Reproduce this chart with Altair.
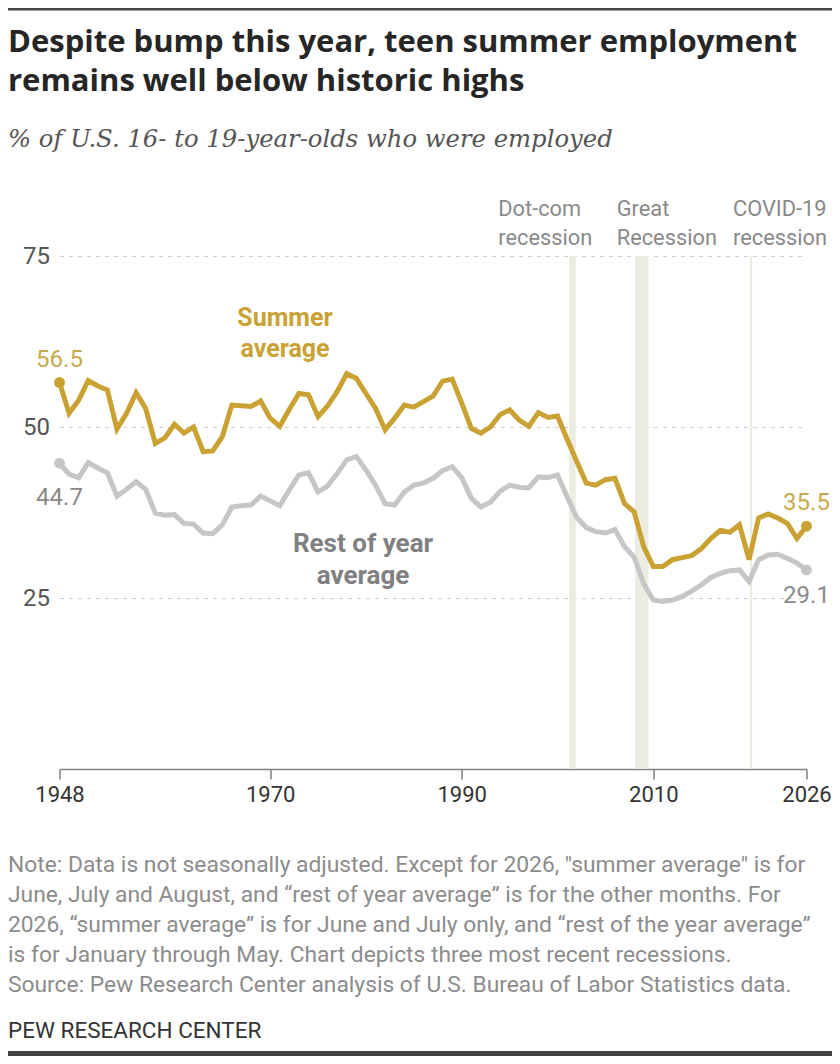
import altair as alt
import pandas as pd

# ---------------- data ----------------
years = list(range(1948, 2027))
summer = [56.5, 52.0, 53.9, 56.8, 56.0, 55.4, 49.7, 52.0, 55.0, 52.7,
          47.6, 48.4, 50.4, 49.1, 50.0, 46.4, 46.5, 48.6, 53.2, 53.1,
          53.0, 53.8, 51.3, 50.1, 52.6, 54.9, 54.7, 51.5, 53.1, 55.2,
          57.8, 57.1, 54.9, 52.7, 49.6, 51.3, 53.2, 52.9, 53.7, 54.5,
          56.7, 57.0, 53.5, 49.8, 49.1, 50.0, 51.8, 52.5, 51.0, 50.1,
          52.1, 51.4, 51.6, 48.2, 45.0, 41.8, 41.5, 42.3, 42.5, 38.8,
          37.6, 32.5, 29.6, 29.6, 30.6, 30.9, 31.2, 32.2, 33.7, 34.9,
          34.6, 35.7, 30.6, 36.7, 37.3, 36.7, 35.9, 33.7, 35.5]
rest = [44.7, 43.1, 42.6, 44.8, 44.0, 43.3, 39.9, 40.9, 42.0, 40.9,
        37.4, 37.1, 37.2, 35.9, 35.8, 34.5, 34.4, 35.7, 38.3, 38.5,
        38.6, 39.9, 39.2, 38.5, 40.8, 43.0, 43.3, 40.5, 41.4, 43.2,
        45.2, 45.7, 43.7, 41.5, 38.8, 38.6, 40.5, 41.5, 41.8, 42.5,
        43.6, 44.2, 42.6, 39.6, 38.3, 39.0, 40.6, 41.5, 41.2, 41.1,
        42.7, 42.6, 43.0, 39.8, 36.8, 35.3, 34.7, 34.5, 35.0, 32.5,
        31.0, 27.1, 24.7, 24.5, 24.7, 25.2, 26.0, 26.9, 28.0, 28.6,
        29.0, 29.1, 27.4, 30.6, 31.3, 31.4, 30.8, 30.1, 29.1]
assert len(years) == len(summer) == len(rest)

x_ticks = [1948, 1970, 1990, 2010, 2026]
y_ticks = [25, 50, 75]

rec_label1 = ["Dot-com", "Great", "COVID-19"]
rec_label2 = ["recession", "Recession", "recession"]
rec_start = [2001.2, 2008.1, 2020.1]
rec_end = [2001.9, 2009.5, 2020.33]

title_lines = ["Despite bump this year, teen summer employment",
               "remains well below historic highs"]
subtitle = "% of U.S. 16- to 19-year-olds who were employed"
note_lines = [
    "Note: Data is not seasonally adjusted. Except for 2026, \"summer average\" is for",
    "June, July and August, and \u201crest of year average\u201d is for the other months. For",
    "2026, \u201csummer average\u201d is for June and July only, and \u201crest of the year average\u201d",
    "is for January through May. Chart depicts three most recent recessions.",
    "Source: Pew Research Center analysis of U.S. Bureau of Labor Statistics data.",
]
credit = "PEW RESEARCH CENTER"
summer_label = ["Summer", "average"]
rest_label = ["Rest of year", "average"]

# ---------------- style ----------------
W, H = 747, 513
FONT = "Roboto, 'Noto Sans', sans-serif"
TFONT = "'Open Sans', Roboto, sans-serif"
SERIF = "'DejaVu Serif', serif"
GOLD = "#C9A233"
GOLD_NUM = "#C8AA4E"
GRAY_LINE = "#C6C6C6"
GRAY_TXT = "#8A8A8A"
GRAY_LBL = "#808080"
BAND = "#ECECE3"

df = pd.DataFrame({"year": years, "summer": summer, "rest": rest})
rec = pd.DataFrame({"start": rec_start, "end": rec_end,
                    "l1": rec_label1, "l2": rec_label2})

xscale = alt.Scale(domain=[1948, 2026], nice=False, zero=False)
yscale = alt.Scale(domain=[0, 75], nice=False, zero=True)

x_axis = alt.Axis(values=x_ticks, format="d", title=None, grid=False,
                  labelFontSize=22, labelColor="#333333", labelFont=FONT,
                  labelPadding=5, labelFlush=False, labelOverlap=False,
                  domainColor="#808080", domainWidth=1.5,
                  tickColor="#808080", tickWidth=1.5, tickSize=10)
y_axis = alt.Axis(values=y_ticks, title=None, grid=True, gridDash=[4, 5],
                  gridColor="#CFCFCF", gridWidth=1.2, domain=False, ticks=False,
                  labelFontSize=24, labelColor="#555555", labelFont=FONT,
                  labelPadding=10)


def X(field):
    return alt.X(field, scale=xscale, axis=x_axis)


def Y(field):
    return alt.Y(field, scale=yscale, axis=y_axis)


bands = alt.Chart(rec).mark_rect(color=BAND).encode(
    x=X("start:Q"), x2="end:Q", y=alt.value(0), y2=alt.value(H))

rest_line = alt.Chart(df).mark_line(color=GRAY_LINE, strokeWidth=5).encode(
    x=X("year:Q"), y=Y("rest:Q"))
summer_line = alt.Chart(df).mark_line(color=GOLD, strokeWidth=5).encode(
    x=X("year:Q"), y=Y("summer:Q"))

ends = alt.Chart(df).transform_filter(
    (alt.datum.year == years[0]) | (alt.datum.year == years[-1]))
rest_pts = ends.mark_circle(color=GRAY_LINE, size=120, opacity=1).encode(
    x=X("year:Q"), y=Y("rest:Q"))
summer_pts = ends.mark_circle(color=GOLD, size=120, opacity=1).encode(
    x=X("year:Q"), y=Y("summer:Q"))


def end_label(year, field, color, dy):
    return alt.Chart(df).transform_filter(alt.datum.year == year).mark_text(
        font=FONT, fontSize=24, color=color, dy=dy, baseline="alphabetic",
        align="center").encode(x=X("year:Q"), y=Y(f"{field}:Q"),
                               text=alt.Text(f"{field}:Q", format=".1f"))


lbls = [end_label(years[0], "summer", GOLD_NUM, -16),
        end_label(years[0], "rest", GRAY_TXT, 42),
        end_label(years[-1], "summer", GOLD_NUM, -16),
        end_label(years[-1], "rest", GRAY_TXT, 33)]

# recession labels (left aligned, two lines)
rec_offsets = [438.8, 557.2, 673.5]
rec_txt = []
for i in range(len(rec_label1)):
    rec_txt.append(
        alt.Chart(rec.iloc[[i]]).mark_text(
            font=FONT, fontSize=21.8, color=GRAY_TXT, align="left",
            baseline="alphabetic", lineHeight=29).encode(
            x=alt.value(rec_offsets[i]), y=alt.value(-40),
            text=alt.value([rec_label1[i], rec_label2[i]])))


def txt(lines, x, y, size, color, font=FONT, weight="normal", style="normal",
        align="left", lh=None):
    kw = {}
    if lh is not None:
        kw["lineHeight"] = lh
    return alt.Chart(pd.DataFrame({"k": [0]})).mark_text(
        font=font, fontSize=size, color=color, fontWeight=weight,
        fontStyle=style, align=align, baseline="alphabetic", **kw).encode(
        x=alt.value(x), y=alt.value(y), text=alt.value(lines))


title_t = txt(title_lines, -51.5, -204.3, 31, "#262626", font=TFONT,
              weight="bold", lh=39)
sub_t = txt(subtitle, -51.5, -109.3, 24.3, "#555555", font=SERIF,
            style="italic")
summer_t = txt(summer_label, 225.5, 69.7, 25, GOLD, weight="bold",
               align="center", lh=31)
rest_t = txt(rest_label, 303.5, 296, 26, GRAY_LBL, weight="bold",
             align="center", lh=32)
note_t = txt(note_lines, -51.5, 615.7, 22.8, "#8C8C8C", lh=30)
credit_t = txt(credit, -51.5, 782.3, 22.5, "#333333")

dummy = alt.Chart(pd.DataFrame({"k": [0]}))
top_bar = dummy.mark_rule(color="#444444", strokeWidth=2.5).encode(
    x=alt.value(-51.5), x2=alt.value(772.5), y=alt.value(-246.8))
bot_bar = dummy.mark_rule(color="#444444", strokeWidth=5).encode(
    x=alt.value(-51.5), x2=alt.value(772.5), y=alt.value(797.5))

chart = alt.layer(
    bands, rest_line, summer_line, rest_pts, summer_pts, *lbls, *rec_txt,
    title_t, sub_t, summer_t, rest_t, note_t, credit_t, top_bar, bot_bar
).properties(
    width=W, height=H,
    autosize=alt.AutoSizeParams(type="none"),
    padding={"left": 51.5, "top": 248, "right": 25.5, "bottom": 287},
    background="white",
).configure_view(stroke=None)

chart.save("out.html", embed_options={"renderer": "svg", "actions": False})
